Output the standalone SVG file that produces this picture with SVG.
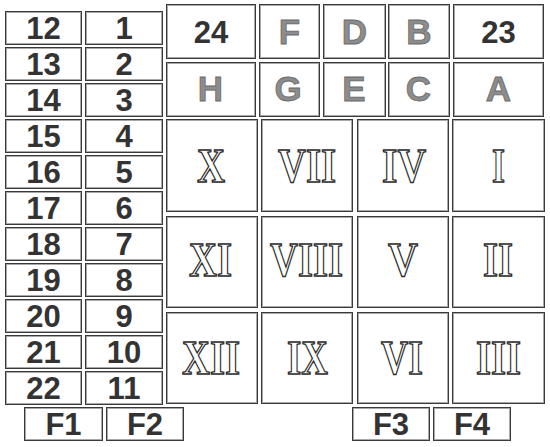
<svg xmlns="http://www.w3.org/2000/svg" width="550" height="447" viewBox="0 0 550 447">
<style>
.o{fill:#fff;stroke:#3a3a3a;stroke-width:1}
.i{fill:none;stroke:#a8a8a8;stroke-width:1}
.n{font-family:"Liberation Sans",Arial,sans-serif;font-weight:bold;font-size:31px;fill:#333;text-anchor:middle}
.g{font-family:"Liberation Sans",Arial,sans-serif;font-weight:bold;font-size:35px;fill:#8c8c8c;stroke:#6a6a6a;stroke-width:0.8;text-anchor:middle}
.r{font-family:"Liberation Serif","Times New Roman",serif;font-weight:bold;font-size:48px;fill:#fff;stroke:#2a2a2a;stroke-width:1.4;text-anchor:middle}
</style>
<rect width="550" height="447" fill="#fff"/>
<g id="left">
<g id="n12"><rect class="o" x="5.5" y="11.5" width="76" height="33"/><rect class="i" x="6.5" y="12.5" width="74" height="31"/><text class="n" x="43.5" y="39">12</text></g>
<g id="n13"><rect class="o" x="5.5" y="47.5" width="76" height="33"/><rect class="i" x="6.5" y="48.5" width="74" height="31"/><text class="n" x="43.5" y="75">13</text></g>
<g id="n14"><rect class="o" x="5.5" y="83.5" width="76" height="33"/><rect class="i" x="6.5" y="84.5" width="74" height="31"/><text class="n" x="43.5" y="111">14</text></g>
<g id="n15"><rect class="o" x="5.5" y="119.5" width="76" height="33"/><rect class="i" x="6.5" y="120.5" width="74" height="31"/><text class="n" x="43.5" y="147">15</text></g>
<g id="n16"><rect class="o" x="5.5" y="155.5" width="76" height="33"/><rect class="i" x="6.5" y="156.5" width="74" height="31"/><text class="n" x="43.5" y="183">16</text></g>
<g id="n17"><rect class="o" x="5.5" y="191.5" width="76" height="33"/><rect class="i" x="6.5" y="192.5" width="74" height="31"/><text class="n" x="43.5" y="219">17</text></g>
<g id="n18"><rect class="o" x="5.5" y="227.5" width="76" height="33"/><rect class="i" x="6.5" y="228.5" width="74" height="31"/><text class="n" x="43.5" y="255">18</text></g>
<g id="n19"><rect class="o" x="5.5" y="263.5" width="76" height="33"/><rect class="i" x="6.5" y="264.5" width="74" height="31"/><text class="n" x="43.5" y="291">19</text></g>
<g id="n20"><rect class="o" x="5.5" y="299.5" width="76" height="33"/><rect class="i" x="6.5" y="300.5" width="74" height="31"/><text class="n" x="43.5" y="327">20</text></g>
<g id="n21"><rect class="o" x="5.5" y="335.5" width="76" height="33"/><rect class="i" x="6.5" y="336.5" width="74" height="31"/><text class="n" x="43.5" y="363">21</text></g>
<g id="n22"><rect class="o" x="5.5" y="371.5" width="76" height="33"/><rect class="i" x="6.5" y="372.5" width="74" height="31"/><text class="n" x="43.5" y="399">22</text></g>
<g id="n1"><rect class="o" x="85.5" y="11.5" width="77" height="33"/><rect class="i" x="86.5" y="12.5" width="75" height="31"/><text class="n" x="124" y="39">1</text></g>
<g id="n2"><rect class="o" x="85.5" y="47.5" width="77" height="33"/><rect class="i" x="86.5" y="48.5" width="75" height="31"/><text class="n" x="124" y="75">2</text></g>
<g id="n3"><rect class="o" x="85.5" y="83.5" width="77" height="33"/><rect class="i" x="86.5" y="84.5" width="75" height="31"/><text class="n" x="124" y="111">3</text></g>
<g id="n4"><rect class="o" x="85.5" y="119.5" width="77" height="33"/><rect class="i" x="86.5" y="120.5" width="75" height="31"/><text class="n" x="124" y="147">4</text></g>
<g id="n5"><rect class="o" x="85.5" y="155.5" width="77" height="33"/><rect class="i" x="86.5" y="156.5" width="75" height="31"/><text class="n" x="124" y="183">5</text></g>
<g id="n6"><rect class="o" x="85.5" y="191.5" width="77" height="33"/><rect class="i" x="86.5" y="192.5" width="75" height="31"/><text class="n" x="124" y="219">6</text></g>
<g id="n7"><rect class="o" x="85.5" y="227.5" width="77" height="33"/><rect class="i" x="86.5" y="228.5" width="75" height="31"/><text class="n" x="124" y="255">7</text></g>
<g id="n8"><rect class="o" x="85.5" y="263.5" width="77" height="33"/><rect class="i" x="86.5" y="264.5" width="75" height="31"/><text class="n" x="124" y="291">8</text></g>
<g id="n9"><rect class="o" x="85.5" y="299.5" width="77" height="33"/><rect class="i" x="86.5" y="300.5" width="75" height="31"/><text class="n" x="124" y="327">9</text></g>
<g id="n10"><rect class="o" x="85.5" y="335.5" width="77" height="33"/><rect class="i" x="86.5" y="336.5" width="75" height="31"/><text class="n" x="124" y="363">10</text></g>
<g id="n11"><rect class="o" x="85.5" y="371.5" width="77" height="33"/><rect class="i" x="86.5" y="372.5" width="75" height="31"/><text class="n" x="124" y="399">11</text></g>
</g>
<g id="top">
<g id="n24"><rect class="o" x="166.5" y="4.5" width="89" height="54"/><rect class="i" x="167.5" y="5.5" width="87" height="52"/><text class="n" x="211" y="43">24</text></g>
<g id="lF"><rect class="o" x="259.5" y="4.5" width="60" height="54"/><rect class="i" x="260.5" y="5.5" width="58" height="52"/><text class="g" x="289.5" y="44">F</text></g>
<g id="lD"><rect class="o" x="323.5" y="4.5" width="62" height="54"/><rect class="i" x="324.5" y="5.5" width="60" height="52"/><text class="g" x="354.5" y="44">D</text></g>
<g id="lB"><rect class="o" x="388.5" y="4.5" width="61" height="54"/><rect class="i" x="389.5" y="5.5" width="59" height="52"/><text class="g" x="419" y="44">B</text></g>
<g id="n23"><rect class="o" x="453.5" y="4.5" width="90" height="54"/><rect class="i" x="454.5" y="5.5" width="88" height="52"/><text class="n" x="498.5" y="43">23</text></g>
<g id="lH"><rect class="o" x="166.5" y="62.5" width="89" height="54"/><rect class="i" x="167.5" y="63.5" width="87" height="52"/><text class="g" x="210.5" y="101">H</text></g>
<g id="lG"><rect class="o" x="259.5" y="62.5" width="60" height="54"/><rect class="i" x="260.5" y="63.5" width="58" height="52"/><text class="g" x="288" y="101">G</text></g>
<g id="lE"><rect class="o" x="323.5" y="62.5" width="62" height="54"/><rect class="i" x="324.5" y="63.5" width="60" height="52"/><text class="g" x="354" y="101">E</text></g>
<g id="lC"><rect class="o" x="388.5" y="62.5" width="61" height="54"/><rect class="i" x="389.5" y="63.5" width="59" height="52"/><text class="g" x="418.5" y="101">C</text></g>
<g id="lA"><rect class="o" x="453.5" y="62.5" width="90" height="54"/><rect class="i" x="454.5" y="63.5" width="88" height="52"/><text class="g" x="498.5" y="101">A</text></g>
</g>
<g id="roman">
<g id="rX"><rect class="o" x="166.5" y="119.5" width="91" height="92"/><rect class="i" x="167.5" y="120.5" width="89" height="90"/><text class="r" x="211" y="182" textLength="28" lengthAdjust="spacingAndGlyphs">X</text></g>
<g id="rVII"><rect class="o" x="261.5" y="119.5" width="91" height="92"/><rect class="i" x="262.5" y="120.5" width="89" height="90"/><text class="r" x="307" y="182" textLength="58" lengthAdjust="spacingAndGlyphs">VII</text></g>
<g id="rIV"><rect class="o" x="357.5" y="119.5" width="91" height="92"/><rect class="i" x="358.5" y="120.5" width="89" height="90"/><text class="r" x="404" y="182" textLength="44" lengthAdjust="spacingAndGlyphs">IV</text></g>
<g id="rI"><rect class="o" x="452.5" y="119.5" width="92" height="92"/><rect class="i" x="453.5" y="120.5" width="90" height="90"/><text class="r" x="498.5" y="182" textLength="13" lengthAdjust="spacingAndGlyphs">I</text></g>
<g id="rXI"><rect class="o" x="166.5" y="216.5" width="91" height="91"/><rect class="i" x="167.5" y="217.5" width="89" height="89"/><text class="r" x="210.5" y="276" textLength="43" lengthAdjust="spacingAndGlyphs">XI</text></g>
<g id="rVIII"><rect class="o" x="261.5" y="216.5" width="91" height="91"/><rect class="i" x="262.5" y="217.5" width="89" height="89"/><text class="r" x="306.5" y="276" textLength="73" lengthAdjust="spacingAndGlyphs">VIII</text></g>
<g id="rV"><rect class="o" x="357.5" y="216.5" width="91" height="91"/><rect class="i" x="358.5" y="217.5" width="89" height="89"/><text class="r" x="403" y="276" textLength="30" lengthAdjust="spacingAndGlyphs">V</text></g>
<g id="rII"><rect class="o" x="452.5" y="216.5" width="92" height="91"/><rect class="i" x="453.5" y="217.5" width="90" height="89"/><text class="r" x="498" y="276" textLength="30" lengthAdjust="spacingAndGlyphs">II</text></g>
<g id="rXII"><rect class="o" x="166.5" y="312.5" width="91" height="91"/><rect class="i" x="167.5" y="313.5" width="89" height="89"/><text class="r" x="211" y="374" textLength="58" lengthAdjust="spacingAndGlyphs">XII</text></g>
<g id="rIX"><rect class="o" x="261.5" y="312.5" width="91" height="91"/><rect class="i" x="262.5" y="313.5" width="89" height="89"/><text class="r" x="307.5" y="374" textLength="41" lengthAdjust="spacingAndGlyphs">IX</text></g>
<g id="rVI"><rect class="o" x="357.5" y="312.5" width="91" height="91"/><rect class="i" x="358.5" y="313.5" width="89" height="89"/><text class="r" x="402" y="374" textLength="42" lengthAdjust="spacingAndGlyphs">VI</text></g>
<g id="rIII"><rect class="o" x="452.5" y="312.5" width="92" height="91"/><rect class="i" x="453.5" y="313.5" width="90" height="89"/><text class="r" x="498.5" y="374" textLength="45" lengthAdjust="spacingAndGlyphs">III</text></g>
</g>
<g id="fkeys">
<g id="F1"><rect class="o" x="24.5" y="407.5" width="78" height="33"/><rect class="i" x="25.5" y="408.5" width="76" height="31"/><text class="n" x="63.5" y="435">F1</text></g>
<g id="F2"><rect class="o" x="106.5" y="407.5" width="77" height="33"/><rect class="i" x="107.5" y="408.5" width="75" height="31"/><text class="n" x="145" y="435">F2</text></g>
<g id="F3"><rect class="o" x="352.5" y="407.5" width="77" height="33"/><rect class="i" x="353.5" y="408.5" width="75" height="31"/><text class="n" x="391" y="435">F3</text></g>
<g id="F4"><rect class="o" x="433.5" y="407.5" width="77" height="33"/><rect class="i" x="434.5" y="408.5" width="75" height="31"/><text class="n" x="472" y="435">F4</text></g>
</g>
<g id="connectors"></g>
</svg>
